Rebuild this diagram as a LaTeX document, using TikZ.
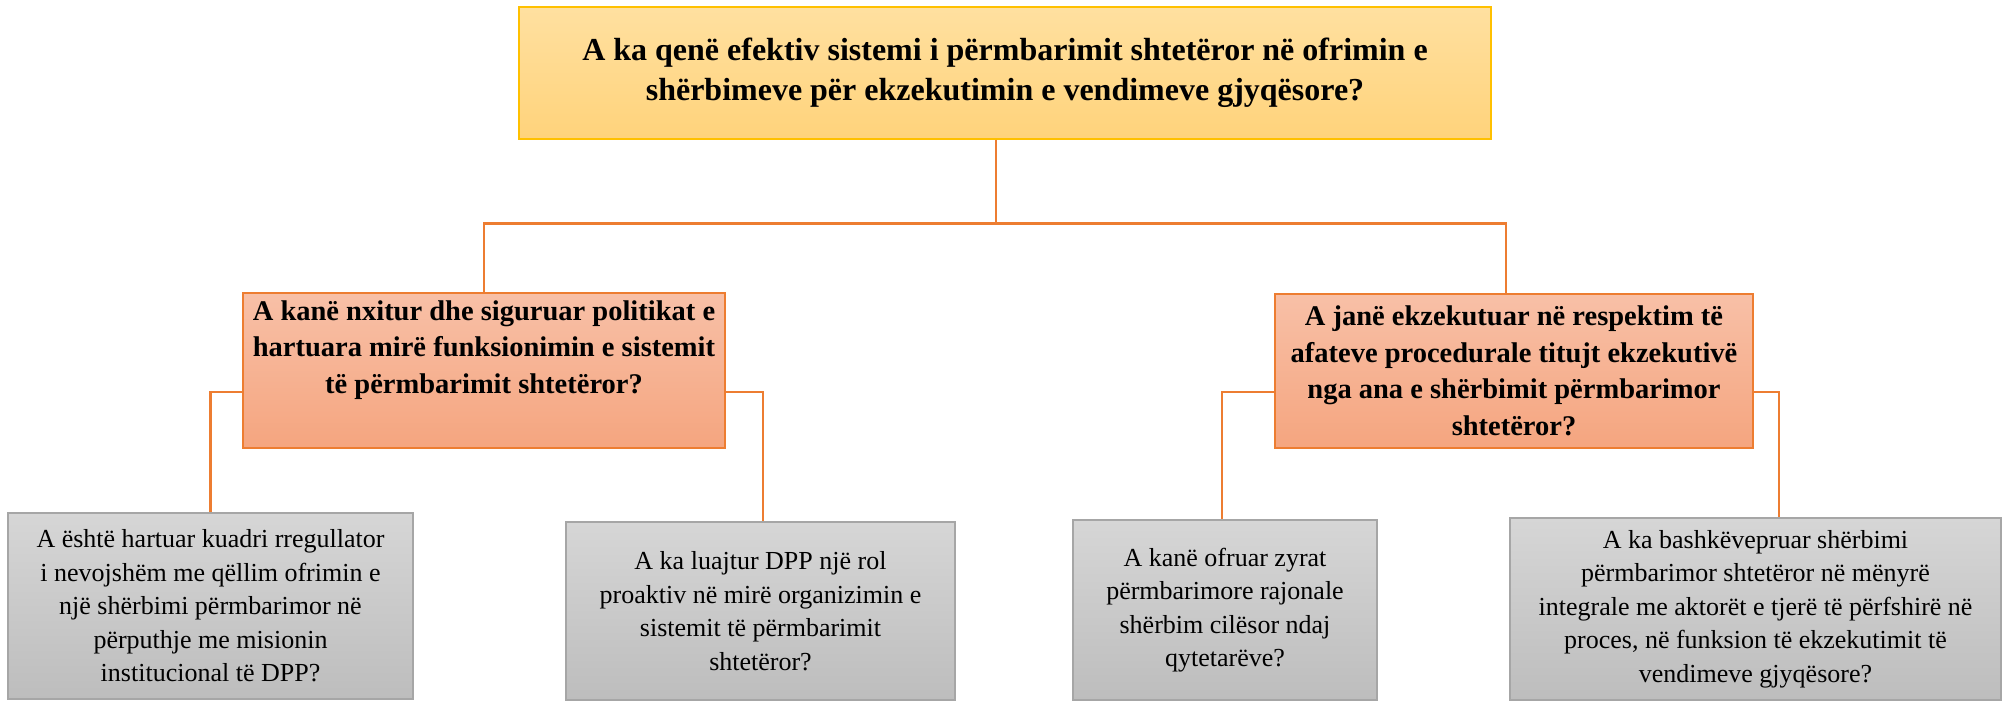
\documentclass[tikz,border=0pt]{standalone}
\usepackage{fontspec}
\setmainfont{Liberation Serif}
\definecolor{linkorange}{HTML}{ED7D31}
\definecolor{goldline}{HTML}{FFC000}
\definecolor{goldtop}{HTML}{FFE0A0}
\definecolor{goldbot}{HTML}{FFD37B}
\definecolor{salmtop}{HTML}{F8C0A7}
\definecolor{salmbot}{HTML}{F5A57F}
\definecolor{greytop}{HTML}{D6D6D6}
\definecolor{greybot}{HTML}{BDBDBD}
\definecolor{greyline}{HTML}{A6A6A6}
\tikzset{
  mainq/.style={draw=goldline, line width=1.5pt, top color=goldtop, bottom color=goldbot,
    align=center, inner sep=0pt, font=\fontsize{32}{40}\selectfont\bfseries},
  subq/.style={draw=linkorange, line width=1.5pt, top color=salmtop, bottom color=salmbot,
    align=center, inner sep=0pt, font=\fontsize{28.5}{36.5}\selectfont\bfseries},
  leafq/.style={draw=greyline, line width=1.2pt, top color=greytop, bottom color=greybot,
    align=center, inner sep=0pt, font=\fontsize{26}{33.5}\selectfont},
  link/.style={draw=linkorange, line width=2.6pt}
}
\begin{document}
\begin{tikzpicture}[x=1pt,y=-1pt]
			\useasboundingbox (0,0) rectangle (2003,701);
			\node[mainq, minimum width=972, minimum height=132] (top) at (1005,73)
				{A ka qenë efektiv sistemi i përmbarimit shtetëror në ofrimin e\\ shërbimeve për ekzekutimin e vendimeve gjyqësore?};
			\node[subq, minimum width=482, minimum height=155] (lm) at (484,370.5)
				{A kanë nxitur dhe siguruar politikat e\\ hartuara mirë funksionimin e sistemit\\ të përmbarimit shtetëror?\\ \strut};
			\node[subq, minimum width=478, minimum height=154] (rm) at (1514,371)
				{A janë ekzekutuar në respektim të\\ afateve procedurale titujt ekzekutivë\\ nga ana e shërbimit përmbarimor\\ shtetëror?};
			\node[leafq, minimum width=405, minimum height=186] (b1) at (210.5,606)
				{A është hartuar kuadri rregullator\\ i nevojshëm me qëllim ofrimin e\\ një shërbimi përmbarimor në\\ përputhje me misionin\\ institucional të DPP?};
			\node[leafq, minimum width=389, minimum height=178] (b2) at (760.5,611)
				{A ka luajtur DPP një rol\\ proaktiv në mirë organizimin e\\ sistemit të përmbarimit\\ shtetëror?};
			\node[leafq, minimum width=304, minimum height=180] (b3) at (1225,610)
				{A kanë ofruar zyrat\\ përmbarimore rajonale\\ shërbim cilësor ndaj\\ qytetarëve?};
			\node[leafq, minimum width=491, minimum height=182] (b4) at (1755.5,609)
				{A ka bashkëvepruar shërbimi\\ përmbarimor shtetëror në mënyrë\\ integrale me aktorët e tjerë të përfshirë në\\ proces, në funksion të ekzekutimit të\\ vendimeve gjyqësore?};
			\draw[link] ([xshift=-9pt]top.south) -- ++(0,84) coordinate (bus);
			\draw[link] (lm.north) |- (bus) -| ([xshift=-8pt]rm.north);
			\draw[link] ([yshift=-21.5pt]lm.west) -| (b1.north);
			\draw[link] ([yshift=-21.5pt]lm.east) -| ([xshift=2.5pt]b2.north);
			\draw[link] ([yshift=-21pt]rm.west) -| ([xshift=-3pt]b3.north);
			\draw[link] ([yshift=-21pt]rm.east) -| ([xshift=23.5pt]b4.north);
		\end{tikzpicture}
\end{document}
